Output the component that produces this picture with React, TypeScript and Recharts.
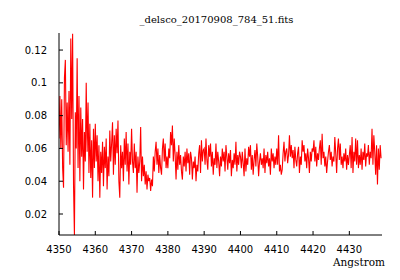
import { LineChart, Line, XAxis, YAxis } from 'recharts';

// spectrum sampled every 0.25 Angstrom, one array per 10 A block
const STEP = 0.25;
const flux4350 = [0.066, 0.092, 0.060, 0.090, 0.048, 0.036, 0.103, 0.114, 0.062, 0.088, 0.058, 0.095, 0.050, 0.127, 0.078, 0.130, 0.038, 0.007, 0.082, 0.060, 0.115, 0.048, 0.092, 0.040, 0.085, 0.055, 0.078, 0.035, 0.070, 0.052, 0.100, 0.058, 0.088, 0.045, 0.075, 0.042, 0.065, 0.030, 0.072, 0.048];
const flux4360 = [0.075, 0.052, 0.068, 0.040, 0.062, 0.030, 0.058, 0.045, 0.064, 0.037, 0.061, 0.048, 0.066, 0.035, 0.055, 0.043, 0.071, 0.052, 0.063, 0.076, 0.044, 0.068, 0.050, 0.072, 0.057, 0.077, 0.040, 0.030, 0.062, 0.048, 0.058, 0.040, 0.066, 0.050, 0.070, 0.046, 0.063, 0.038, 0.058, 0.050];
const flux4370 = [0.072, 0.052, 0.045, 0.063, 0.048, 0.058, 0.033, 0.055, 0.045, 0.052, 0.073, 0.040, 0.055, 0.043, 0.050, 0.038, 0.046, 0.035, 0.044, 0.040, 0.042, 0.034, 0.041, 0.037, 0.055, 0.046, 0.058, 0.064, 0.050, 0.060, 0.045, 0.056, 0.048, 0.044, 0.060, 0.066, 0.052, 0.063, 0.048, 0.055];
const flux4380 = [0.048, 0.060, 0.054, 0.070, 0.062, 0.074, 0.052, 0.066, 0.056, 0.041, 0.058, 0.047, 0.062, 0.050, 0.056, 0.046, 0.041, 0.055, 0.049, 0.058, 0.046, 0.060, 0.051, 0.057, 0.044, 0.058, 0.054, 0.041, 0.052, 0.048, 0.055, 0.040, 0.050, 0.046, 0.057, 0.062, 0.045, 0.065, 0.052, 0.059];
const flux4390 = [0.060, 0.050, 0.066, 0.053, 0.047, 0.062, 0.055, 0.063, 0.049, 0.058, 0.044, 0.054, 0.050, 0.063, 0.048, 0.058, 0.052, 0.043, 0.055, 0.049, 0.060, 0.052, 0.058, 0.046, 0.062, 0.055, 0.047, 0.057, 0.051, 0.059, 0.043, 0.053, 0.048, 0.057, 0.050, 0.064, 0.046, 0.056, 0.050, 0.058];
const flux4400 = [0.055, 0.048, 0.058, 0.051, 0.043, 0.060, 0.046, 0.054, 0.050, 0.061, 0.055, 0.062, 0.047, 0.056, 0.044, 0.053, 0.059, 0.049, 0.063, 0.055, 0.043, 0.052, 0.057, 0.050, 0.054, 0.048, 0.060, 0.045, 0.056, 0.051, 0.058, 0.049, 0.054, 0.044, 0.060, 0.052, 0.057, 0.048, 0.055, 0.050];
const flux4410 = [0.060, 0.050, 0.068, 0.046, 0.050, 0.044, 0.047, 0.057, 0.064, 0.052, 0.058, 0.060, 0.051, 0.056, 0.068, 0.055, 0.062, 0.054, 0.059, 0.048, 0.061, 0.053, 0.049, 0.057, 0.061, 0.045, 0.055, 0.050, 0.065, 0.058, 0.062, 0.052, 0.057, 0.048, 0.060, 0.054, 0.045, 0.058, 0.052, 0.060];
const flux4420 = [0.058, 0.065, 0.052, 0.061, 0.049, 0.057, 0.053, 0.060, 0.065, 0.050, 0.069, 0.054, 0.058, 0.049, 0.055, 0.045, 0.052, 0.058, 0.062, 0.053, 0.058, 0.049, 0.055, 0.052, 0.067, 0.057, 0.045, 0.060, 0.066, 0.053, 0.063, 0.050, 0.055, 0.048, 0.057, 0.052, 0.060, 0.047, 0.056, 0.050];
const flux4430 = [0.056, 0.062, 0.048, 0.067, 0.045, 0.058, 0.052, 0.066, 0.050, 0.065, 0.048, 0.056, 0.050, 0.060, 0.047, 0.058, 0.053, 0.063, 0.049, 0.057, 0.055, 0.062, 0.050, 0.058, 0.054, 0.072, 0.050, 0.068, 0.058, 0.044, 0.062, 0.038, 0.060, 0.047, 0.062, 0.054];

const blocks: [number, number[]][] = [
  [4350, flux4350], [4360, flux4360], [4370, flux4370], [4380, flux4380], [4390, flux4390],
  [4400, flux4400], [4410, flux4410], [4420, flux4420], [4430, flux4430],
];

const xTicks = [4350, 4360, 4370, 4380, 4390, 4400, 4410, 4420, 4430];
const yTicks = [0.02, 0.04, 0.06, 0.08, 0.1, 0.12];

const data = blocks.flatMap(([start, vals]) =>
  vals.map((f, i) => ({ wl: +(start + i * STEP).toFixed(2), flux: f }))
);

const FONT = '"DejaVu Sans", sans-serif';
const SERIF = '"DejaVu Serif", serif';
const TICK = 4;

const BottomTick = ({ x, y, payload }: any) => (
  <g>
    <line x1={x} x2={x} y1={y} y2={y - TICK} stroke="#000" />
    <text x={x} y={y + 17.5} textAnchor="middle" fontSize={10} fontFamily={FONT} fill="#000">
      {payload.value}
    </text>
  </g>
);

const TopTick = ({ x, y }: any) => <line x1={x} x2={x} y1={y} y2={y + TICK} stroke="#000" />;

const LeftTick = ({ x, y, payload }: any) => (
  <g>
    <line x1={x} x2={x + TICK} y1={y} y2={y} stroke="#000" />
    <text x={x - 12} y={y + 3.6} textAnchor="end" fontSize={10} fontFamily={FONT} fill="#000">
      {payload.value}
    </text>
  </g>
);

const RightTick = ({ x, y }: any) => <line x1={x} x2={x - TICK} y1={y} y2={y} stroke="#000" />;

export default function App() {
  return (
    <div style={{ position: 'relative', width: 400, height: 280, background: '#fff' }}>
      <style>{'body{margin:0}'}</style>
      <LineChart width={400} height={280} data={data} margin={{ top: 33, right: 18, left: 0, bottom: 0 }}>
        <XAxis
          dataKey="wl"
          type="number"
          domain={[4350, 4439]}
          ticks={xTicks}
          allowDataOverflow
          height={45}
          tickSize={0}
          tickMargin={0}
          tickLine={false}
          axisLine={{ stroke: '#000' }}
          tick={<BottomTick />}
          interval={0}
        />
        <XAxis
          xAxisId="top"
          orientation="top"
          dataKey="wl"
          type="number"
          domain={[4350, 4439]}
          ticks={xTicks}
          allowDataOverflow
          height={0}
          tickSize={0}
          tickMargin={0}
          tickLine={false}
          axisLine={{ stroke: '#000' }}
          tick={<TopTick />}
          interval={0}
        />
        <YAxis
          domain={[0.0072, 0.1304]}
          ticks={yTicks}
          allowDataOverflow
          width={59}
          tickSize={0}
          tickMargin={0}
          tickLine={false}
          axisLine={{ stroke: '#000' }}
          tick={<LeftTick />}
          interval={0}
        />
        <YAxis
          yAxisId="right"
          orientation="right"
          domain={[0.0072, 0.1304]}
          ticks={yTicks}
          allowDataOverflow
          width={0}
          tickSize={0}
          tickMargin={0}
          tickLine={false}
          axisLine={{ stroke: '#000' }}
          tick={<RightTick />}
          interval={0}
        />
        <Line
          type="linear"
          dataKey="flux"
          stroke="#ff0000"
          strokeWidth={1.1}
          dot={false}
          isAnimationActive={false}
        />
      </LineChart>
      <svg width={400} height={280} style={{ position: 'absolute', left: 0, top: 0, pointerEvents: 'none' }}>
        <text x={216.5} y={22.5} textAnchor="middle" fontSize={10} fontFamily={SERIF} fill="#000">
          _delsco_20170908_784_51.fits
        </text>
        <text x={385} y={265.5} textAnchor="end" fontSize={10.5} fontFamily={SERIF} fill="#000">
          Angstrom
        </text>
      </svg>
    </div>
  );
}
